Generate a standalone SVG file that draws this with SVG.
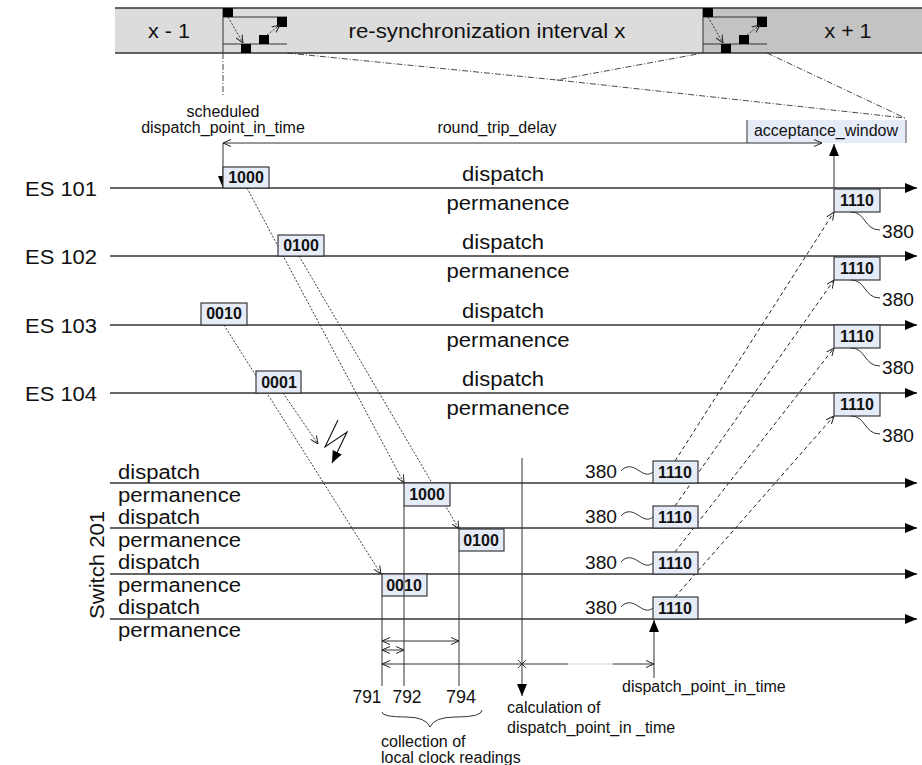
<svg xmlns="http://www.w3.org/2000/svg" width="922" height="765" viewBox="0 0 922 765">
<style>
text{font-family:"Liberation Sans",Arial,sans-serif;fill:#111}
.big{font-size:20px}
.sw{font-size:19.5px}
.mid{font-size:19px}
.sm{font-size:16px}
.lbl{font-size:16px;font-weight:bold;text-anchor:middle}
.c{text-anchor:middle}
.box{fill:#e6ecf7;stroke:#3a3a3a;stroke-width:1.2}
.axis{stroke:#333;stroke-width:1.3;fill:none}
.thin{stroke:#333;stroke-width:1;fill:none}
.dot{stroke:#222;stroke-width:0.9;stroke-dasharray:2 1.6;fill:none}
.dash{stroke:#222;stroke-width:1;stroke-dasharray:4 3;fill:none}
.dd{stroke:#333;stroke-width:0.9;stroke-dasharray:6 2 1 2;fill:none}
.sq{fill:#000}
</style>
<defs>
<marker id="fill" viewBox="0 0 12 10" refX="12" refY="5" markerWidth="12" markerHeight="10" markerUnits="userSpaceOnUse" orient="auto"><path d="M0,0 L12,5 L0,10 Z" fill="#000"/></marker>
<marker id="open" viewBox="0 0 8 8" refX="8" refY="4" markerWidth="8" markerHeight="8" markerUnits="userSpaceOnUse" orient="auto-start-reverse"><path d="M0,0.5 L8,4 L0,7.5" fill="none" stroke="#222" stroke-width="1"/></marker>
</defs>

<!-- re-synchronization interval bar -->
<g id="bar">
<rect x="115" y="8" width="588" height="45" fill="#dcdcdc"/>
<rect x="703" y="8" width="219" height="45" fill="#c3c3c3"/>
<line class="axis" x1="115" y1="8" x2="922" y2="8"/>
<line class="axis" x1="115" y1="53" x2="922" y2="53"/>
<line class="thin" x1="223" y1="8" x2="223" y2="53"/>
<line class="thin" x1="703" y1="8" x2="703" y2="53"/>
<text class="big c" x="169" y="38" textLength="42" lengthAdjust="spacingAndGlyphs">x - 1</text>
<text class="big c" x="487" y="38" textLength="277" lengthAdjust="spacingAndGlyphs">re-synchronization interval x</text>
<text class="big c" x="848" y="38" textLength="47" lengthAdjust="spacingAndGlyphs">x + 1</text>
<g id="sync-a">
<line class="thin" x1="223" y1="17" x2="287" y2="17"/>
<line class="thin" x1="223" y1="44" x2="287" y2="44"/>
<rect class="sq" x="223" y="8" width="10" height="9"/>
<rect class="sq" x="277" y="17" width="10" height="10"/>
<rect class="sq" x="259" y="35" width="10" height="9"/>
<rect class="sq" x="241" y="44" width="10" height="9"/>
<line class="dot" x1="228" y1="17" x2="243" y2="43" marker-end="url(#open)"/>
<line class="dot" x1="267" y1="35" x2="280" y2="25" marker-end="url(#open)"/>
</g>
<g id="sync-b" transform="translate(480,0)">
<line class="thin" x1="223" y1="17" x2="287" y2="17"/>
<line class="thin" x1="223" y1="44" x2="287" y2="44"/>
<rect class="sq" x="223" y="8" width="10" height="9"/>
<rect class="sq" x="277" y="17" width="10" height="10"/>
<rect class="sq" x="259" y="35" width="10" height="9"/>
<rect class="sq" x="241" y="44" width="10" height="9"/>
<line class="dot" x1="228" y1="17" x2="243" y2="43" marker-end="url(#open)"/>
<line class="dot" x1="267" y1="35" x2="280" y2="25" marker-end="url(#open)"/>
</g>
</g>

<!-- projection lines from the bar -->
<g id="projections">
<line class="dd" x1="223" y1="53" x2="223" y2="97"/>
<polyline class="dd" points="287,53 557,80 703,53"/>
<line class="dd" x1="557" y1="80" x2="905" y2="118"/>
<line class="dd" x1="767" y1="53" x2="905" y2="118"/>
</g>

<!-- timing annotations -->
<g id="schedule">
<text class="sm c" x="223" y="117">scheduled</text>
<text class="sm c" x="223" y="133">dispatch_point_in_time</text>
<text class="sm c" x="497" y="133">round_trip_delay</text>
</g>
<g id="acceptance">
<rect x="747" y="120" width="159" height="23" fill="#e6ecf7"/>
<line class="thin" x1="747" y1="120" x2="747" y2="143"/>
<line x1="906" y1="120" x2="906" y2="143" stroke="#888" stroke-width="1.5"/>
<text class="sm c" x="826" y="136">acceptance_window</text>
</g>

<!-- end system time lines -->
<g id="es101">
<text class="big" x="25" y="196" textLength="72" lengthAdjust="spacingAndGlyphs">ES 101</text>
<line class="axis" x1="110" y1="188" x2="917" y2="188" marker-end="url(#fill)"/>
<text class="big c" x="503" y="181" textLength="82" lengthAdjust="spacingAndGlyphs">dispatch</text>
<text class="big c" x="508" y="210" textLength="123" lengthAdjust="spacingAndGlyphs">permanence</text>
</g>
<g id="es102">
<text class="big" x="25" y="264" textLength="72" lengthAdjust="spacingAndGlyphs">ES 102</text>
<line class="axis" x1="110" y1="256" x2="917" y2="256" marker-end="url(#fill)"/>
<text class="big c" x="503" y="249" textLength="82" lengthAdjust="spacingAndGlyphs">dispatch</text>
<text class="big c" x="508" y="278" textLength="123" lengthAdjust="spacingAndGlyphs">permanence</text>
</g>
<g id="es103">
<text class="big" x="25" y="333" textLength="72" lengthAdjust="spacingAndGlyphs">ES 103</text>
<line class="axis" x1="110" y1="325" x2="917" y2="325" marker-end="url(#fill)"/>
<text class="big c" x="503" y="318" textLength="82" lengthAdjust="spacingAndGlyphs">dispatch</text>
<text class="big c" x="508" y="347" textLength="123" lengthAdjust="spacingAndGlyphs">permanence</text>
</g>
<g id="es104">
<text class="big" x="25" y="401" textLength="72" lengthAdjust="spacingAndGlyphs">ES 104</text>
<line class="axis" x1="110" y1="393" x2="917" y2="393" marker-end="url(#fill)"/>
<text class="big c" x="503" y="386" textLength="82" lengthAdjust="spacingAndGlyphs">dispatch</text>
<text class="big c" x="508" y="415" textLength="123" lengthAdjust="spacingAndGlyphs">permanence</text>
</g>

<!-- switch time lines -->
<g id="switch201">
<text class="big c" transform="translate(104,565) rotate(-90)" textLength="108" lengthAdjust="spacingAndGlyphs">Switch 201</text>
<line class="axis" x1="110" y1="483" x2="917" y2="483" marker-end="url(#fill)"/>
<line class="axis" x1="110" y1="528" x2="917" y2="528" marker-end="url(#fill)"/>
<line class="axis" x1="110" y1="574" x2="917" y2="574" marker-end="url(#fill)"/>
<line class="axis" x1="110" y1="619" x2="917" y2="619" marker-end="url(#fill)"/>
<text class="sw" x="118" y="479" textLength="82" lengthAdjust="spacingAndGlyphs">dispatch</text>
<text class="sw" x="118" y="502" textLength="123" lengthAdjust="spacingAndGlyphs">permanence</text>
<text class="sw" x="118" y="524" textLength="82" lengthAdjust="spacingAndGlyphs">dispatch</text>
<text class="sw" x="118" y="547" textLength="123" lengthAdjust="spacingAndGlyphs">permanence</text>
<text class="sw" x="118" y="569" textLength="82" lengthAdjust="spacingAndGlyphs">dispatch</text>
<text class="sw" x="118" y="592" textLength="123" lengthAdjust="spacingAndGlyphs">permanence</text>
<text class="sw" x="118" y="614" textLength="82" lengthAdjust="spacingAndGlyphs">dispatch</text>
<text class="sw" x="118" y="637" textLength="123" lengthAdjust="spacingAndGlyphs">permanence</text>
</g>

<!-- connectors -->
<g id="connectors">
<line class="thin" x1="223" y1="143" x2="822" y2="143" marker-start="url(#open)" marker-end="url(#open)"/>
<line class="thin" x1="223" y1="143" x2="223" y2="188" marker-end="url(#fill)"/>
<line class="thin" x1="834" y1="188" x2="834" y2="144" marker-end="url(#fill)"/>
<line class="dot" x1="247" y1="188" x2="404" y2="483" marker-end="url(#open)"/>
<line class="dot" x1="299" y1="256" x2="459" y2="529" marker-end="url(#open)"/>
<line class="dot" x1="224" y1="325" x2="381" y2="574" marker-end="url(#open)"/>
<line class="dot" x1="283" y1="393" x2="318" y2="444" marker-end="url(#open)"/>
<path d="M338,420 L325,447 L347,432 L332,463" fill="none" stroke="#111" stroke-width="1.1" marker-end="url(#fill)"/>
<line class="dash" x1="675" y1="461" x2="834" y2="212" marker-end="url(#open)"/>
<line class="dash" x1="675" y1="506" x2="834" y2="280" marker-end="url(#open)"/>
<line class="dash" x1="675" y1="552" x2="834" y2="348" marker-end="url(#open)"/>
<line class="dash" x1="675" y1="597" x2="834" y2="416" marker-end="url(#open)"/>
</g>

<!-- frames on end system lines -->
<g id="f1000-es"><rect class="box" x="223" y="167" width="46" height="21"/><text class="lbl" x="246" y="183">1000</text></g>
<g id="f0100-es"><rect class="box" x="278" y="235" width="46" height="21"/><text class="lbl" x="301" y="251">0100</text></g>
<g id="f0010-es"><rect class="box" x="201" y="303" width="46" height="22"/><text class="lbl" x="224" y="319">0010</text></g>
<g id="f0001-es"><rect class="box" x="256" y="371" width="45" height="22"/><text class="lbl" x="279" y="388">0001</text></g>

<!-- frames received at the switch -->
<g id="f1000-sw"><rect class="box" x="404" y="483" width="46" height="23"/><text class="lbl" x="427" y="500">1000</text></g>
<g id="f0100-sw"><rect class="box" x="459" y="529" width="45" height="22"/><text class="lbl" x="481" y="546">0100</text></g>
<g id="f0010-sw"><rect class="box" x="382" y="574" width="45" height="22"/><text class="lbl" x="404" y="591">0010</text></g>

<!-- synchronization frames sent by the switch -->
<g id="sync-sw">
<g id="s1"><rect class="box" x="653" y="461" width="45" height="22"/><text class="lbl" x="675" y="478">1110</text><text class="mid" x="585" y="478" textLength="32" lengthAdjust="spacingAndGlyphs">380</text><path class="thin" d="M621,471 C626,465 632,466 638,470 S648,476 653,472"/></g>
<g id="s2"><rect class="box" x="653" y="506" width="45" height="22"/><text class="lbl" x="675" y="523">1110</text><text class="mid" x="585" y="523" textLength="32" lengthAdjust="spacingAndGlyphs">380</text><path class="thin" d="M621,516 C626,510 632,511 638,515 S648,521 653,517"/></g>
<g id="s3"><rect class="box" x="653" y="552" width="45" height="22"/><text class="lbl" x="675" y="569">1110</text><text class="mid" x="585" y="569" textLength="32" lengthAdjust="spacingAndGlyphs">380</text><path class="thin" d="M621,562 C626,556 632,557 638,561 S648,567 653,563"/></g>
<g id="s4"><rect class="box" x="653" y="597" width="45" height="22"/><text class="lbl" x="675" y="614">1110</text><text class="mid" x="585" y="614" textLength="32" lengthAdjust="spacingAndGlyphs">380</text><path class="thin" d="M621,607 C626,601 632,602 638,606 S648,612 653,608"/></g>
</g>

<!-- synchronization frames received by the end systems -->
<g id="sync-es">
<g id="r1"><rect class="box" x="834" y="189" width="46" height="23"/><text class="lbl" x="857" y="206">1110</text><path class="thin" d="M851,212 C866,212 864,230 880,230"/><text class="mid" x="882" y="238" textLength="32" lengthAdjust="spacingAndGlyphs">380</text></g>
<g id="r2"><rect class="box" x="834" y="257" width="46" height="23"/><text class="lbl" x="857" y="274">1110</text><path class="thin" d="M851,280 C866,280 864,298 880,298"/><text class="mid" x="882" y="306" textLength="32" lengthAdjust="spacingAndGlyphs">380</text></g>
<g id="r3"><rect class="box" x="834" y="325" width="46" height="23"/><text class="lbl" x="857" y="342">1110</text><path class="thin" d="M851,348 C866,348 864,366 880,366"/><text class="mid" x="882" y="374" textLength="32" lengthAdjust="spacingAndGlyphs">380</text></g>
<g id="r4"><rect class="box" x="834" y="393" width="46" height="23"/><text class="lbl" x="857" y="410">1110</text><path class="thin" d="M851,416 C866,416 864,434 880,434"/><text class="mid" x="882" y="442" textLength="32" lengthAdjust="spacingAndGlyphs">380</text></g>
</g>

<!-- local clock readings and dispatch calculation -->
<g id="readings">
<line class="thin" x1="382" y1="596" x2="382" y2="686"/>
<line class="thin" x1="404" y1="506" x2="404" y2="686"/>
<line class="thin" x1="459" y1="551" x2="459" y2="686"/>
<line class="thin" x1="382" y1="641" x2="459" y2="641" marker-start="url(#open)" marker-end="url(#open)"/>
<line class="thin" x1="382" y1="650" x2="404" y2="650" marker-start="url(#open)" marker-end="url(#open)"/>
<line class="thin" x1="382" y1="664" x2="522" y2="664" marker-start="url(#open)"/>
<line class="thin" x1="522" y1="664" x2="568" y2="664"/>
<line x1="568" y1="664" x2="613" y2="664" stroke="#aaa" stroke-width="1.2" stroke-dasharray="1 1"/>
<line class="thin" x1="613" y1="664" x2="654" y2="664" marker-end="url(#open)"/>
<path class="thin" d="M518,660 l8,8 M526,660 l-8,8"/>
<line class="thin" x1="522" y1="458" x2="522" y2="696" marker-end="url(#fill)"/>
<line class="thin" x1="654" y1="678" x2="654" y2="620" marker-end="url(#fill)"/>
<text class="mid c" x="367" y="703" textLength="29" lengthAdjust="spacingAndGlyphs">791</text>
<text class="mid c" x="407" y="703" textLength="29" lengthAdjust="spacingAndGlyphs">792</text>
<text class="mid c" x="461" y="703" textLength="30" lengthAdjust="spacingAndGlyphs">794</text>
<path class="thin" d="M382,712 Q382,717 406,717 Q426,717 430,727 Q434,717 456,717 Q482,717 482,710"/>
<text class="sm" x="381" y="747">collection of</text>
<text class="sm" x="381" y="763">local clock readings</text>
<text class="sm" x="507" y="713">calculation of</text>
<text class="sm" x="507" y="733">dispatch_point_in _time</text>
<text class="sm" x="622" y="692">dispatch_point_in_time</text>
</g>
</svg>
